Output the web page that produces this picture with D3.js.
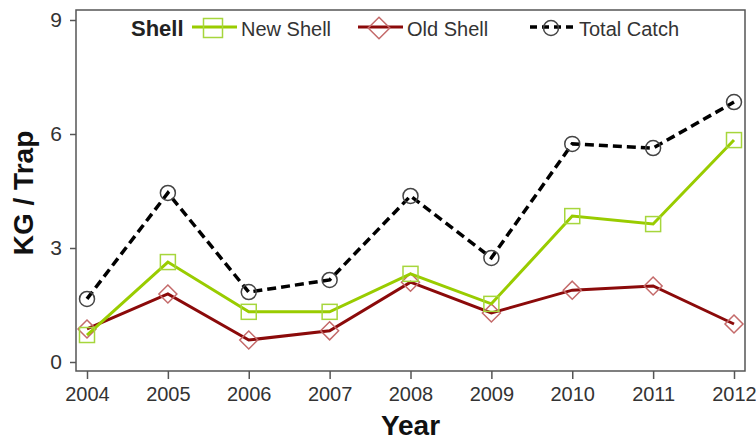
<!DOCTYPE html>
<html>
<head>
<meta charset="utf-8">
<script src="https://cdn.jsdelivr.net/npm/d3@7"></script>
<style>
  body { margin: 0; background: #fff; }
  text { font-family: "Liberation Sans", Arial, sans-serif; }
</style>
</head>
<body>
<script>
// 年ごとの値 (KG / Trap)
const years = [2004, 2005, 2006, 2007, 2008, 2009, 2010, 2011, 2012];
const newShell = [0.71, 2.63, 1.32, 1.32, 2.32, 1.53, 3.84, 3.63, 5.84];
const oldShell = [0.87, 1.79, 0.58, 0.82, 2.10, 1.29, 1.89, 2.00, 1.00];
const totalCatch = [1.66, 4.45, 1.84, 2.16, 4.37, 2.74, 5.74, 5.63, 6.84];
const yTicks = [0, 3, 6, 9];

const width = 756, height = 444;
const margin = { top: 10, right: 11, bottom: 73, left: 76 };

const svg = d3.select("body").append("svg")
    .attr("width", width)
    .attr("height", height);

// スケール
const x = d3.scaleLinear()
    .domain([2004, 2012])
    .range([87, 734]);

const y = d3.scaleLinear()
    .domain([0, 9])
    .range([362, 20]);

const series = [
    { name: "New Shell", values: newShell, line: "#99cc00", mark: "#a6d63c", width: 3, dash: null, shape: "square", legSize: 19 },
    { name: "Old Shell", values: oldShell, line: "#8b0a0a", mark: "#c46a6a", width: 3, dash: null, shape: "diamond", legSize: 18 },
    { name: "Total Catch", values: totalCatch, line: "#000", mark: "#444", width: 3.5, dash: "9,5", shape: "circle", legSize: 15 }
];

// 枠
svg.append("rect")
    .attr("x", margin.left)
    .attr("y", margin.top)
    .attr("width", width - margin.left - margin.right)
    .attr("height", height - margin.top - margin.bottom)
    .attr("fill", "none")
    .attr("stroke", "#555")
    .attr("stroke-width", 1.5);

// X軸
svg.append("g")
    .attr("transform", `translate(0,${height - margin.bottom})`)
    .call(d3.axisBottom(x).tickValues(years).tickFormat(d3.format("d")).tickSize(8).tickSizeOuter(0).tickPadding(8))
    .call(g => g.select(".domain").remove())
    .call(g => g.selectAll(".tick line").attr("stroke", "#555").attr("stroke-width", 1.5))
    .call(g => g.selectAll(".tick text").attr("font-size", 20).attr("fill", "#333")
        .style("font-family", "Liberation Sans, Arial, sans-serif"));

// Y軸
svg.append("g")
    .attr("transform", `translate(${margin.left},0)`)
    .call(d3.axisLeft(y).tickValues(yTicks).tickSize(6).tickSizeOuter(0).tickPadding(8))
    .call(g => g.select(".domain").remove())
    .call(g => g.selectAll(".tick line").attr("stroke", "#555").attr("stroke-width", 1.5))
    .call(g => g.selectAll(".tick text").attr("font-size", 21).attr("fill", "#333")
        .style("font-family", "Liberation Sans, Arial, sans-serif"));

// 軸タイトル
svg.append("text")
    .attr("x", (margin.left + width - margin.right) / 2)
    .attr("y", 435)
    .attr("text-anchor", "middle")
    .attr("font-size", 28)
    .attr("font-weight", "bold")
    .attr("fill", "#111")
    .text("Year");

svg.append("text")
    .attr("transform", `translate(33,193) rotate(-90)`)
    .attr("text-anchor", "middle")
    .attr("font-size", 28)
    .attr("font-weight", "bold")
    .attr("fill", "#111")
    .text("KG / Trap");

// マーカー
const drawMarker = (g, shape, color, cx, cy, s) => {
    if (shape === "square") {
        g.append("rect").attr("x", cx - s / 2).attr("y", cy - s / 2)
            .attr("width", s).attr("height", s)
            .attr("fill", "none").attr("stroke", color).attr("stroke-width", 1.5);
    } else if (shape === "diamond") {
        const r = s * 0.6;
        g.append("path").attr("d", `M${cx},${cy - r}L${cx + r},${cy}L${cx},${cy + r}L${cx - r},${cy}Z`)
            .attr("fill", "none").attr("stroke", color).attr("stroke-width", 1.5);
    } else {
        g.append("circle").attr("cx", cx).attr("cy", cy).attr("r", s / 2)
            .attr("fill", "none").attr("stroke", color).attr("stroke-width", 1.5);
    }
};

const line = d3.line()
    .x((d, i) => x(years[i]))
    .y(d => y(d));

// 線 (Old Shell → New Shell → Total の順)
[series[1], series[0], series[2]].forEach(s => {
    svg.append("path")
        .datum(s.values)
        .attr("d", line)
        .attr("fill", "none")
        .attr("stroke", s.line)
        .attr("stroke-width", s.width)
        .attr("stroke-dasharray", s.dash);
    const g = svg.append("g");
    s.values.forEach((v, i) => drawMarker(g, s.shape, s.mark, x(years[i]), y(v), 15));
});

// 凡例
const legend = svg.append("g");
legend.append("text")
    .attr("x", 131).attr("y", 36)
    .attr("font-size", 22).attr("font-weight", "bold").attr("fill", "#222")
    .text("Shell");

const legendPos = [192, 358, 530];
series.forEach((s, i) => {
    const x0 = legendPos[i];
    legend.append("line")
        .attr("x1", x0).attr("x2", x0 + 45)
        .attr("y1", 27).attr("y2", 27)
        .attr("stroke", s.line)
        .attr("stroke-width", s.width)
        .attr("stroke-dasharray", s.dash ? "7,5" : null);
    drawMarker(legend, s.shape, s.mark, x0 + 21, 28, s.legSize);
    legend.append("text")
        .attr("x", x0 + 49).attr("y", 36)
        .attr("font-size", 20).attr("fill", "#333")
        .text(s.name);
});
</script>
</body>
</html>
